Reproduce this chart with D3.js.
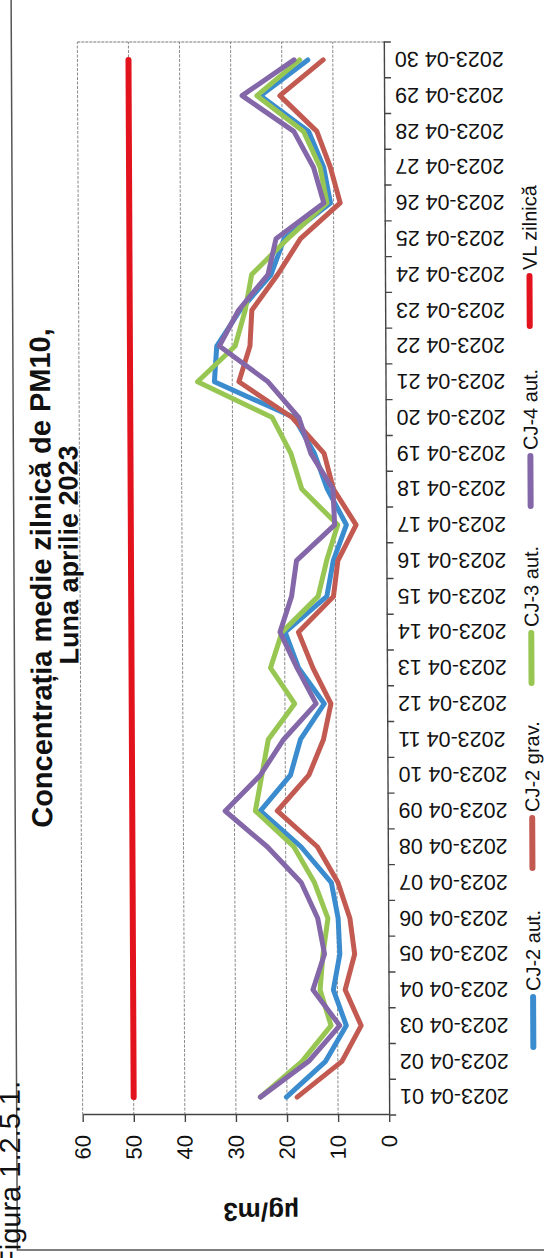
<!DOCTYPE html>
<html>
<head>
<meta charset="utf-8">
<script src="https://cdn.jsdelivr.net/npm/d3@7"></script>
<style>
  html, body { margin: 0; padding: 0; background: #fff; }
  svg { display: block; }
  text { font-family: "Liberation Sans", Arial, sans-serif; fill: #111; }
</style>
</head>
<body>
<script>
const days = ["2023-04 01","2023-04 02","2023-04 03","2023-04 04","2023-04 05","2023-04 06","2023-04 07","2023-04 08","2023-04 09","2023-04 10",
              "2023-04 11","2023-04 12","2023-04 13","2023-04 14","2023-04 15","2023-04 16","2023-04 17","2023-04 18","2023-04 19","2023-04 20",
              "2023-04 21","2023-04 22","2023-04 23","2023-04 24","2023-04 25","2023-04 26","2023-04 27","2023-04 28","2023-04 29","2023-04 30"];
const cj2aut  = [20.1,12.4,8.3,10.8,9.5,9.8,11.1,17.0,24.9,19.0,17.0,12.3,17.3,19.9,11.7,10.4,7.8,11.5,14.0,17.9,33.5,33.0,28.4,22.3,19.7,10.6,11.9,14.8,24.2,14.9];
const cj2grav = [18.0,9.2,5.4,8.5,6.6,7.5,9.8,13.8,21.6,15.4,12.5,11.0,14.5,17.3,10.4,9.5,5.9,10.3,12.1,18.3,28.7,26.5,26.1,21.0,16.5,8.7,10.6,13.2,20.4,11.9];
const cj3aut  = [25.2,17.0,11.3,13.4,12.8,11.8,14.4,18.4,25.9,24.6,23.3,18.1,22.8,20.5,13.4,11.7,9.5,16.5,18.6,22.2,36.8,29.4,27.4,26.1,19.0,11.3,12.6,15.8,24.9,16.5];
const cj4aut  = [25.2,15.7,9.6,14.8,12.5,13.8,17.0,23.6,31.8,24.9,20.3,13.9,17.6,20.9,18.6,17.6,10.1,10.4,14.7,17.0,23.0,32.5,28.7,22.9,21.3,11.9,13.9,17.7,27.8,17.6];
const vlZilnica = [50,50,50,50,50,50,50,50,50,50,50,50,50,50,50,50,50,50,50,50,50,50,50,50,50,50,50,50,50,50];
const seriesNames = ["CJ-2 aut.","CJ-2 grav.","CJ-3 aut.","CJ-4 aut.","VL zilnică"];
const seriesColors = ["#3a8ccf","#c25a52","#98c653","#8467a8","#e3131d"];
const yTicks = [0,10,20,30,40,50,60];
const titleLines = ["Concentrația medie zilnică de PM10,","Luna aprilie 2023"];
const yAxisTitle = "µg/m3";
const figLabel = "Figura 1.2.5.1.";

const W = 544, H = 1258;
const svg = d3.select("body").append("svg").attr("width", W).attr("height", H);

// the chart is drawn in landscape and turned a quarter turn to the left (as in the scan)
const k = 0.005, cy = 578;
const root = svg.append("g")
  .attr("transform", `translate(${-k*cy},0) skewX(${Math.atan(k)*180/Math.PI}) translate(0,${H}) rotate(-90)`);

const x = d3.scaleBand().domain(days).range([143, 1216]);
const y = d3.scaleLinear().domain([0, 60]).range([386.5, 80]);
const cx = d => x(d) + x.bandwidth() / 2;

// outer frame
root.append("rect").attr("x", 8).attr("y", 14).attr("width", 1400).attr("height", 700)
  .attr("fill", "none").attr("stroke", "#555").attr("stroke-width", 1.5);

// gridlines
root.append("g").selectAll("line").data(yTicks.filter(t => t > 0)).join("line")
  .attr("x1", 143).attr("x2", 1216).attr("y1", d => y(d)).attr("y2", d => y(d))
  .attr("stroke", "#8a8a8a").attr("stroke-width", 1).attr("stroke-dasharray", "3,1.5");
// plot border right side
root.append("line").attr("x1", 1216).attr("x2", 1216).attr("y1", y(60)).attr("y2", y(0))
  .attr("stroke", "#777").attr("stroke-width", 1.2).attr("stroke-dasharray", "3,1");

// value axis
const ya = root.append("g").attr("transform", "translate(143,0)")
  .call(d3.axisLeft(y).tickValues(yTicks).tickSize(7).tickSizeOuter(0).tickPadding(13));
ya.select(".domain").attr("stroke", "#444").attr("stroke-width", 1.4);
ya.selectAll(".tick line").attr("stroke", "#444").attr("stroke-width", 1.4);
ya.selectAll("text").style("font-size", "22px").attr("fill", "#111");

// category axis
const xa = root.append("g").attr("transform", `translate(0,${y(0)})`)
  .call(d3.axisBottom(x).tickSize(0).tickSizeOuter(0));
xa.select(".domain").attr("stroke", "#444").attr("stroke-width", 1.4);
xa.selectAll("text")
  .attr("transform", "rotate(-90)").attr("x", -11).attr("y", 0).attr("dy", "0.36em")
  .attr("text-anchor", "end").style("font-size", "21.5px").attr("fill", "#111");
xa.selectAll(".tickmark").data(d3.range(days.length + 1)).join("line")
  .attr("class", "tickmark")
  .attr("x1", i => 143 + i * x.step()).attr("x2", i => 143 + i * x.step())
  .attr("y1", 0).attr("y2", 7).attr("stroke", "#444").attr("stroke-width", 1.4);

// series
const allSeries = [cj2aut, cj2grav, cj3aut, cj4aut, vlZilnica];
const line = d3.line().x((d, i) => cx(days[i])).y(d => y(d));
root.append("g").selectAll("path").data(allSeries).join("path")
  .attr("d", d => line(d)).attr("fill", "none")
  .attr("stroke", (d, i) => seriesColors[i]).attr("stroke-width", (d, i) => i === 4 ? 6 : 5)
  .attr("stroke-linejoin", "round").attr("stroke-linecap", "round");

// title
const titleU = [680, 703], titleV = [51, 78], titleSize = ["29px", "27px"];
root.append("g").selectAll("text").data(titleLines).join("text")
  .attr("x", (d, i) => titleU[i]).attr("y", (d, i) => titleV[i])
  .attr("text-anchor", "middle").style("font-size", (d, i) => titleSize[i]).style("font-weight", "bold")
  .text(d => d);

// axis title
root.append("text").attr("transform", "translate(46,258) rotate(-90)")
  .attr("text-anchor", "middle").attr("dy", "0.35em")
  .style("font-size", "26px").style("font-weight", "bold").text(yAxisTitle);

// figure label (partly outside the page, as in the scan)
root.append("text").attr("x", -10).attr("y", 17).style("font-size", "29px").text(figLabel);

// legend
const legendX = [211, 390, 575, 752, 932];
const lg = root.append("g").selectAll("g").data(seriesNames).join("g")
  .attr("transform", (d, i) => `translate(${legendX[i]},531)`);
lg.append("line").attr("x1", 0).attr("x2", 50).attr("y1", 0).attr("y2", 0)
  .attr("stroke", (d, i) => seriesColors[i]).attr("stroke-width", 6).attr("stroke-linecap", "round");
lg.append("text").attr("x", 56).attr("dy", "0.36em").style("font-size", "20px").text(d => d);
</script>
</body>
</html>
